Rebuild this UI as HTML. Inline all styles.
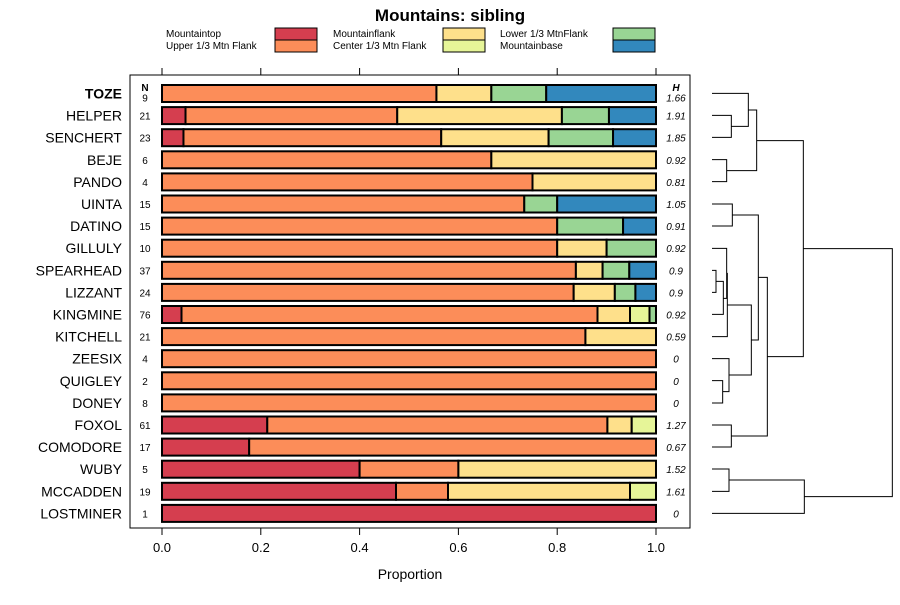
<!DOCTYPE html>
<html><head><meta charset="utf-8"><style>
body{margin:0;background:#fff;}
svg{font-family:"Liberation Sans",sans-serif;}
</style></head><body>
<svg id="chart" width="900" height="600">
<text x="450" y="21" text-anchor="middle" font-size="17" font-weight="bold">Mountains: sibling</text>
<g id="legend"></g>
<rect x="130" y="75" width="560" height="453" fill="none" stroke="#000" stroke-width="1"/>
<g id="bars"></g>
<g id="axes"></g>
<g id="dendro" stroke="#000" fill="none" stroke-width="1"></g>
<text x="410" y="579" text-anchor="middle" font-size="14">Proportion</text>
</svg>
<script>
const categories=["TOZE","HELPER","SENCHERT","BEJE","PANDO","UINTA","DATINO","GILLULY","SPEARHEAD","LIZZANT","KINGMINE","KITCHELL","ZEESIX","QUIGLEY","DONEY","FOXOL","COMODORE","WUBY","MCCADDEN","LOSTMINER"];
const nValues=[9,21,23,6,4,15,15,10,37,24,76,21,4,2,8,61,17,5,19,1];
const hValues=["1.66","1.91","1.85","0.92","0.81","1.05","0.91","0.92","0.9","0.9","0.92","0.59","0","0","0","1.27","0.67","1.52","1.61","0"];
const seriesNames=["Mountaintop","Upper 1/3 Mtn Flank","Mountainflank","Center 1/3 Mtn Flank","Lower 1/3 MtnFlank","Mountainbase"];
const mountaintop=[0,1/21,1/23,0,0,0,0,0,0,0,3/76,0,0,0,0,13/61,3/17,0.4,9/19,1];
const upperFlank=[5/9,9/21,12/23,4/6,3/4,11/15,12/15,0.8,31/37,20/24,64/76,18/21,1,1,1,42/61,14/17,0.2,2/19,0];
const mountainflank=[1/9,7/21,5/23,2/6,1/4,0,0,0.1,2/37,2/24,5/76,3/21,0,0,0,3/61,0,0.4,7/19,0];
const centerFlank=[0,0,0,0,0,0,0,0,0,0,3/76,0,0,0,0,3/61,0,0,1/19,0];
const lowerFlank=[1/9,2/21,3/23,0,0,1/15,2/15,0.1,2/37,1/24,1/76,0,0,0,0,0,0,0,0,0];
const mountainbase=[2/9,2/21,2/23,0,0,3/15,1/15,0,2/37,1/24,0,0,0,0,0,0,0,0,0,0];
const xTicks=[0,0.2,0.4,0.6,0.8,1.0];
const xTickLabels=["0.0","0.2","0.4","0.6","0.8","1.0"];

const colors=["#d53e4f","#fc8d59","#fee08b","#e6f598","#99d594","#3288bd"];
const series=[mountaintop,upperFlank,mountainflank,centerFlank,lowerFlank,mountainbase];
const NS="http://www.w3.org/2000/svg";
const X=v=>162+v*494;
const Y=i=>93.5+i*22.1;
function mk(tag,attrs,parent){const e=document.createElementNS(NS,tag);for(const k in attrs)e.setAttribute(k,attrs[k]);parent.appendChild(e);return e;}
const bars=document.getElementById('bars'),axes=document.getElementById('axes'),leg=document.getElementById('legend');

// legend
const legPos=[[166,37,275],[166,49,275],[333,37,443],[333,49,443],[500,37,613],[500,49,613]];
const legOrder=[0,1,2,3,4,5];
legOrder.forEach((s,k)=>{
  const p=legPos[k];
  const t=mk('text',{x:p[0],y:p[1],'font-size':10},leg);t.textContent=seriesNames[s];
  
  
  const r=mk('rect',{x:p[2],y:p[1]-9,width:42,height:12,fill:colors[s],stroke:'#000','stroke-width':1},leg);
  
  
});

// column headers
let t=mk('text',{x:145,y:91,'font-size':10,'font-weight':'bold','text-anchor':'middle'},axes);t.textContent='N';


t=mk('text',{x:676,y:91,'font-size':10,'font-weight':'bold','font-style':'italic','text-anchor':'middle'},axes);t.textContent='H';



categories.forEach((c,i)=>{
  const y=Y(i);
  const lab=mk('text',{x:122,y:y+5,'font-size':14,'text-anchor':'end','font-weight':i===0?'bold':'normal'},axes);lab.textContent=c;
  
  
  const n=mk('text',{x:145,y:y+(i===0?8:4),'font-size':10,'text-anchor':'middle'},axes);n.textContent=nValues[i];
  
  
  const h=mk('text',{x:676,y:y+(i===0?8:4),'font-size':10,'font-style':'italic','text-anchor':'middle'},axes);h.textContent=hValues[i];
  
  
  let acc=0;
  series.forEach((arr,s)=>{
    const v=arr[i];if(!v)return;
    const r=mk('rect',{x:X(acc),y:y-8.5,width:X(acc+v)-X(acc),height:17,fill:colors[s],stroke:'#000','stroke-width':2},bars);
    
    
    acc+=v;
  });
});

// x ticks
xTicks.forEach((v,k)=>{
  const a=mk('line',{x1:X(v),x2:X(v),y1:75,y2:68,stroke:'#000'},axes);
  
  
  const b=mk('line',{x1:X(v),x2:X(v),y1:528,y2:535,stroke:'#000'},axes);
  
  
  const l=mk('text',{x:X(v),y:552,'font-size':13,'text-anchor':'middle'},axes);l.textContent=xTickLabels[k];
  
  
});

// dendrogram (zoom coords -> px)
const d=document.getElementById('dendro');
const zx=v=>690+v/3, zy=v=>80+v/3;
const segs=[
 // [leftTopX, yTop, leftBotX, yBot, joinX]
 [66,106,66,172,124],[66,40,124,139,175],[66,239,66,305,110],[175,90,110,272,200],
 [66,372,66,438,127],[66,571,66,637,78],[78,604,66,703,100],[66,505,100,655,110],[110,580,66,770,112],
 [66,902,66,969,98],[66,836,98,935,117],[112,675,117,885,184],[127,405,184,780,205],
 [66,1035,66,1101,124],[205,592,124,1068,232],[200,182,232,830,340],
 [66,1167,66,1234,117],[117,1200,66,1300,343],[340,506,343,1250,607]
];
segs.forEach(s=>{
  const p=mk('path',{d:`M${zx(s[0])},${zy(s[1])}H${zx(s[4])}V${zy(s[3])}H${zx(s[2])}`},d);
  
  
});
</script>
</body></html>
